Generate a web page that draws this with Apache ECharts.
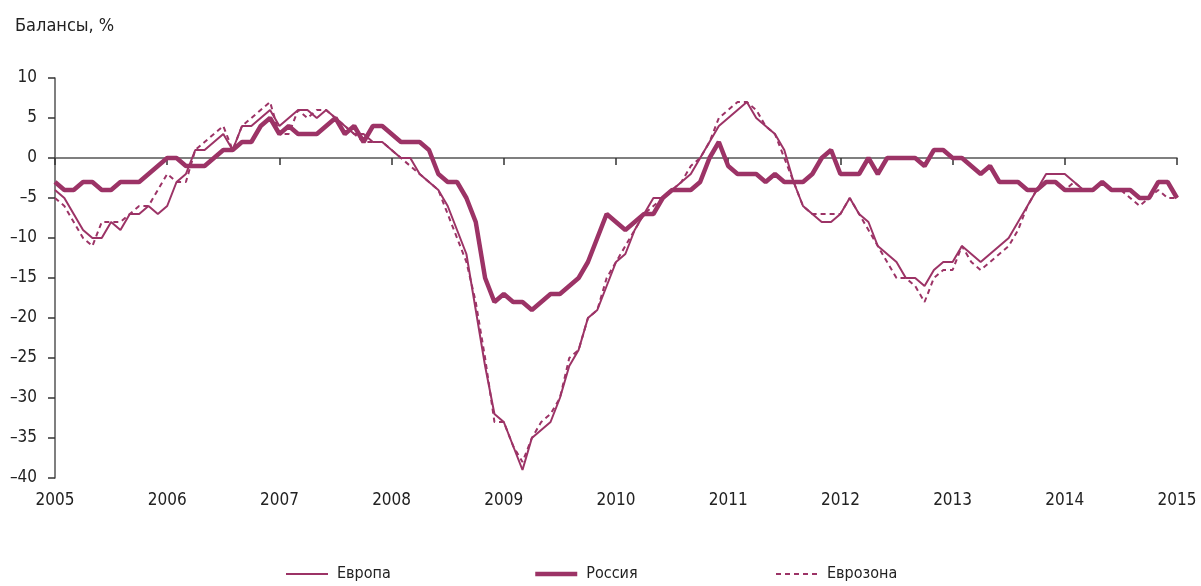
<!DOCTYPE html>
<html>
<head>
<meta charset="utf-8">
<script src="https://cdn.jsdelivr.net/npm/echarts@6/dist/echarts.min.js"></script>
<style>
  html, body { margin: 0; padding: 0; background: #fff; }
  #main { width: 1201px; height: 586px; }
</style>
</head>
<body>
<div id="main"></div>
<script>
// месячные данные, январь 2005 - январь 2015
var years = ['2005', '2006', '2007', '2008', '2009', '2010', '2011', '2012', '2013', '2014', '2015'];

var europe = [
  -4, -5, -7, -9, -10, -10, -8, -9, -7, -7, -6, -7,
  -6, -3, -2, 1, 1, 2, 3, 1, 4, 4, 5, 6,
  4, 5, 6, 6, 5, 6, 5, 4, 3, 3, 2, 2,
  1, 0, 0, -2, -3, -4, -6, -9, -12, -19, -26, -32,
  -33, -36, -39, -35, -34, -33, -30, -26, -24, -20, -19, -16,
  -13, -12, -9, -7, -5, -5, -4, -3, -2, 0, 2, 4,
  5, 6, 7, 5, 4, 3, 1, -3, -6, -7, -8, -8,
  -7, -5, -7, -8, -11, -12, -13, -15, -15, -16, -14, -13,
  -13, -11, -12, -13, -12, -11, -10, -8, -6, -4, -2, -2,
  -2, -3, -4, -4, -3, -4, -4, -4, -5, -5, -3, -3,
  -5
];

var russia = [
  -3, -4, -4, -3, -3, -4, -4, -3, -3, -3, -2, -1,
  0, 0, -1, -1, -1, 0, 1, 1, 2, 2, 4, 5,
  3, 4, 3, 3, 3, 4, 5, 3, 4, 2, 4, 4,
  3, 2, 2, 2, 1, -2, -3, -3, -5, -8, -15, -18,
  -17, -18, -18, -19, -18, -17, -17, -16, -15, -13, -10, -7,
  -8, -9, -8, -7, -7, -5, -4, -4, -4, -3, 0, 2,
  -1, -2, -2, -2, -3, -2, -3, -3, -3, -2, 0, 1,
  -2, -2, -2, 0, -2, 0, 0, 0, 0, -1, 1, 1,
  0, 0, -1, -2, -1, -3, -3, -3, -4, -4, -3, -3,
  -4, -4, -4, -4, -3, -4, -4, -4, -5, -5, -3, -3,
  -5
];

var eurozone = [
  -5, -6, -8, -10, -11, -8, -8, -8, -7, -6, -6, -4,
  -2, -3, -3, 1, 2, 3, 4, 1, 4, 5, 6, 7,
  3, 3, 6, 5, 6, 6, 5, 4, 3, 2, 2, 2,
  1, 0, -1, -2, -3, -4, -7, -10, -13, -18, -25, -33,
  -33, -36, -38, -35, -33, -32, -30, -25, -24, -20, -19, -15,
  -13, -11, -9, -7, -6, -5, -4, -3, -1, 0, 2, 5,
  6, 7, 7, 6, 4, 3, 0, -3, -6, -7, -7, -7,
  -7, -5, -7, -9, -11, -13, -15, -15, -16, -18, -15, -14,
  -14, -11, -13, -14, -13, -12, -11, -9, -6, -4, -3, -3,
  -4, -3, -4, -4, -3, -4, -4, -5, -6, -5, -4, -5,
  -5
];

var seriesNames = ['Европа', 'Россия', 'Еврозона'];

function toPoints(arr) {
  return arr.map(function (v, i) { return [i, v]; });
}

var color = '#9c3366';
var font = "'Liberation Sans Narrow', 'DejaVu Sans Condensed', Arial, sans-serif";

// по одной легенде на серию, чтобы разнести их как в оригинале
var legendLeft = [285, 533, 775];
var legendWidth = [2, 4.5, 2];
var legends = seriesNames.map(function (name, i) {
  return {
    left: legendLeft[i],
    top: 566,
    padding: 0,
    itemWidth: 42,
    itemHeight: 14,
    textStyle: { fontFamily: font, fontSize: 16, color: '#222', padding: [0, 0, 0, 4] },
    data: [{
      name: name,
      itemStyle: { opacity: 0 },
      lineStyle: { width: legendWidth[i] }
    }]
  };
});

var myChart = echarts.init(document.getElementById('main'));
myChart.setOption({
  backgroundColor: '#fff',
  animation: false,
  title: {
    text: 'Балансы, %',
    left: 10,
    top: 12,
    textStyle: { fontFamily: font, fontSize: 18, fontWeight: 'normal', color: '#222' }
  },
  legend: legends,
  grid: { left: 55, right: 24, top: 78, bottom: 108 },
  xAxis: [
    {
      type: 'value',
      min: 0,
      max: 120,
      interval: 12,
      axisLine: { onZero: true, lineStyle: { color: '#555', width: 1.5 } },
      axisTick: { show: true, length: 7, lineStyle: { color: '#333', width: 1.5 } },
      axisLabel: { show: false },
      splitLine: { show: false }
    },
    {
      type: 'value',
      min: 0,
      max: 120,
      interval: 12,
      position: 'bottom',
      axisLine: { show: false, onZero: false },
      axisTick: { show: false },
      axisLabel: {
        margin: 14,
        fontFamily: font,
        fontSize: 17,
        color: '#222',
        formatter: function (v) { return years[Math.round(v / 12)]; }
      },
      splitLine: { show: false }
    }
  ],
  yAxis: {
    type: 'value',
    min: -40,
    max: 10,
    interval: 5,
    axisLine: { show: true, lineStyle: { color: '#555', width: 1.5 } },
    axisTick: { show: true, length: 7, lineStyle: { color: '#333', width: 1.5 } },
    axisLabel: {
      margin: 18,
      fontFamily: font,
      fontSize: 17,
      color: '#222',
      formatter: function (v) { return String(v).replace('-', '\u2013'); }
    },
    splitLine: { show: false }
  },
  series: [
    {
      name: seriesNames[0],
      type: 'line',
      xAxisIndex: 0,
      symbol: 'none',
      data: toPoints(europe),
      lineStyle: { color: color, width: 2 },
      itemStyle: { color: color },
      z: 3
    },
    {
      name: seriesNames[1],
      type: 'line',
      xAxisIndex: 0,
      symbol: 'none',
      data: toPoints(russia),
      lineStyle: { color: color, width: 4.5 },
      itemStyle: { color: color },
      z: 4
    },
    {
      name: seriesNames[2],
      type: 'line',
      xAxisIndex: 0,
      symbol: 'none',
      data: toPoints(eurozone),
      lineStyle: { color: color, width: 2, type: [5, 4] },
      itemStyle: { color: color },
      z: 2
    }
  ]
});
</script>
</body>
</html>
